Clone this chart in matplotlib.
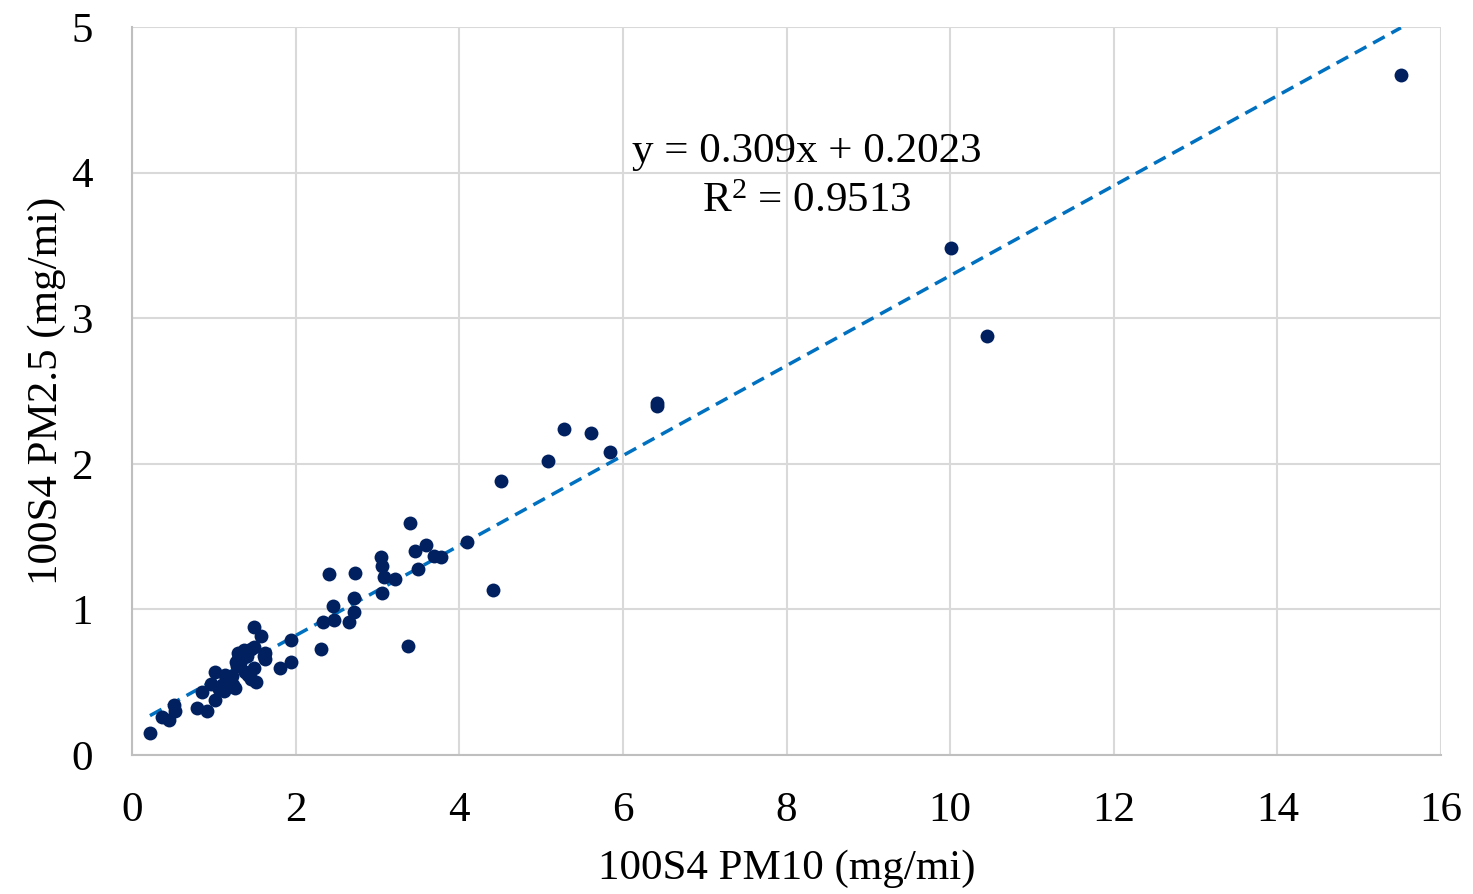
import matplotlib.pyplot as plt
import numpy as np

# 数据
pm10 = [0.22, 0.37, 0.45, 0.51, 0.53, 0.79, 0.92, 0.86, 0.96, 1.01,
        1.02, 1.06, 1.14, 1.10, 1.18, 1.26, 1.22, 1.28, 1.30, 1.37,
        1.41, 1.45, 1.49, 1.32, 1.38, 1.49, 1.45, 1.51, 1.61, 1.63,
        1.49, 1.58, 1.81, 1.94, 1.94, 2.31, 2.33, 2.47, 2.46, 2.41,
        2.72, 2.71, 2.71, 2.65, 3.04, 3.05, 3.08, 3.21, 3.06, 3.37,
        3.40, 3.46, 3.59, 3.69, 3.78, 3.50, 4.09, 4.41, 4.51, 5.08,
        5.28, 5.61, 5.84, 6.42, 6.42, 10.01, 10.45, 15.51,
        1.30, 1.23, 1.12, 1.35, 1.42, 1.27, 1.16, 1.62]
pm25 = [0.15, 0.26, 0.24, 0.34, 0.30, 0.32, 0.30, 0.43, 0.49, 0.38,
        0.57, 0.45, 0.55, 0.48, 0.50, 0.46, 0.54, 0.61, 0.70, 0.72,
        0.68, 0.73, 0.74, 0.63, 0.57, 0.60, 0.52, 0.50, 0.68, 0.70,
        0.88, 0.82, 0.60, 0.64, 0.79, 0.73, 0.91, 0.93, 1.02, 1.24,
        1.25, 1.08, 0.98, 0.91, 1.36, 1.30, 1.22, 1.21, 1.11, 0.75,
        1.59, 1.40, 1.44, 1.37, 1.36, 1.28, 1.46, 1.13, 1.88, 2.02,
        2.24, 2.21, 2.08, 2.42, 2.40, 3.48, 2.88, 4.67,
        0.66, 0.48, 0.44, 0.70, 0.55, 0.64, 0.52, 0.66]

slope = 0.309
intercept = 0.2023
r2 = 0.9513

plt.rcParams['font.family'] = ['Liberation Serif', 'DejaVu Serif']
fs = 31

fig = plt.figure(figsize=(14.73, 8.94), dpi=100)
ax = fig.add_axes([0.0896, 0.1555, 0.8887, 0.8143])

# 趋势线
xs = np.array([min(pm10), max(pm10)])
ax.plot(xs, slope * xs + intercept, color='#0070C0', linestyle=(0, (3.8, 2.2)),
        linewidth=2.5, zorder=2)
# 散点
ax.scatter(pm10, pm25, s=100, color='#002060', zorder=3, linewidths=0)

ax.set_xlim(0, 16)
ax.set_ylim(0, 5)
ax.set_xticks(range(0, 17, 2))
ax.set_yticks(range(0, 6))
ax.grid(True, color='#D9D9D9', linewidth=1.5)
ax.set_axisbelow(True)
for s in ['top', 'right']:
    ax.spines[s].set_visible(False)
for s in ['left', 'bottom']:
    ax.spines[s].set_color('#BFBFBF')
    ax.spines[s].set_linewidth(1.5)
ax.tick_params(axis='x', length=0, labelsize=fs, pad=26)
ax.tick_params(axis='y', length=0, labelsize=fs, pad=28)

ax.set_xlabel('100S4 PM10 (mg/mi)', fontsize=fs, labelpad=14)
ax.set_ylabel('100S4 PM2.5 (mg/mi)', fontsize=fs, labelpad=4)

ax.text(8.25, 4.07, 'y = %.3fx + %.4f' % (slope, intercept),
        fontsize=fs, ha='center', va='baseline')
ax.text(8.25, 3.73, '$\\mathregular{R^2}$ = %.4f' % r2,
        fontsize=fs, ha='center', va='baseline')

fig.savefig('out.png', dpi=100)
